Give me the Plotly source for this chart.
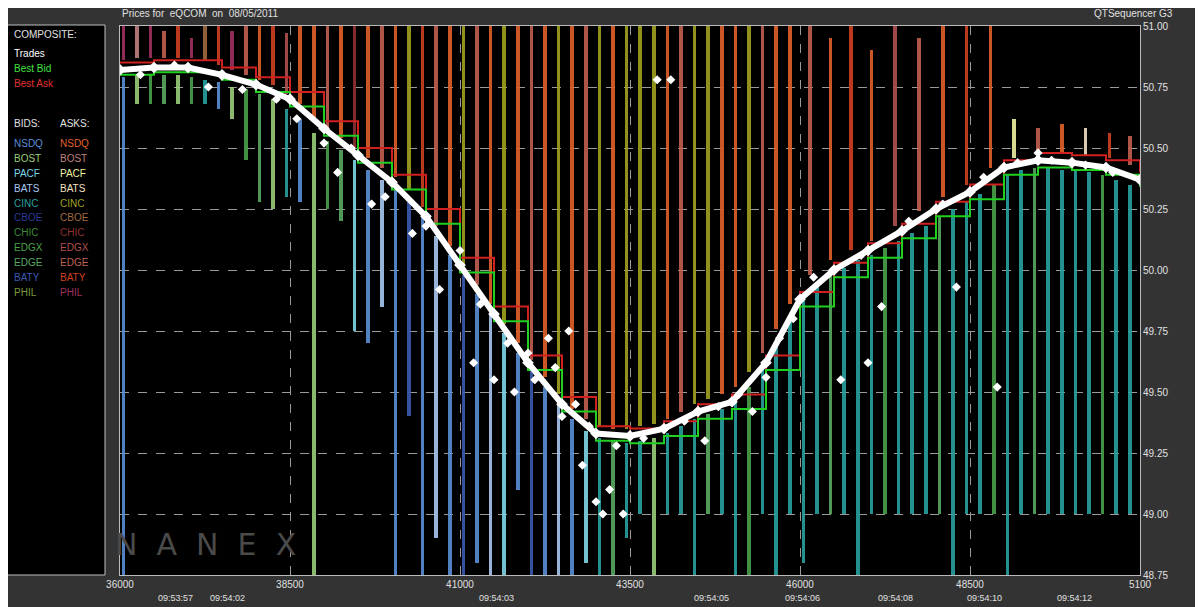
import plotly.graph_objects as go

# ---------------- data ----------------
curve_x = [36000,36500,37000,37500,38000,38500,39000,39500,40000,40500,41000,41500,42000,42500,43000,
           43500,44000,44500,45000,45500,46000,46500,47000,47500,48000,48500,49000,49500,50000,50500,51000]
trade_px = [50.82,50.83,50.83,50.80,50.76,50.70,50.58,50.47,50.36,50.22,50.02,49.82,49.62,49.45,49.33,
            49.32,49.35,49.42,49.46,49.62,49.88,50.00,50.08,50.16,50.25,50.32,50.42,50.45,50.44,50.42,50.37]
best_bid = [50.80,50.81,50.81,50.78,50.73,50.67,50.55,50.44,50.33,50.19,49.99,49.79,49.59,49.42,49.30,
            49.29,49.32,49.39,49.43,49.59,49.85,49.97,50.05,50.13,50.22,50.29,50.39,50.42,50.41,50.39,50.34]
best_ask = [50.85,50.86,50.86,50.83,50.79,50.73,50.61,50.50,50.39,50.25,50.05,49.85,49.65,49.48,49.36,
            49.35,49.38,49.45,49.49,49.65,49.91,50.03,50.11,50.19,50.28,50.35,50.45,50.48,50.47,50.45,50.40]

# extra (outlying) trades
odd_x = [37300,38600,39200,39700,40300,40700,41200,41500,41800,42100,42300,42400,42600,42700,42800,43000,
         43100,43200,43400,43900,44100,44600,45300,45900,46600,47000,47200,48300,48900,49500,
         36300,36800,37800,38300,39000,39400,39900,40500,41000,41300,41700,42000,42500,42900,43300,43700,
         44300,44800,45100,45500,45700,46200,46900,47600,48100,48700,49200,49700,50200,50600]
odd_px = [50.75,50.62,50.40,50.27,50.15,49.92,49.62,49.55,49.50,49.55,49.72,49.60,49.75,49.45,49.20,49.05,
          49.00,49.10,49.00,50.78,50.78,49.30,49.42,49.80,49.55,49.62,49.85,49.93,49.52,50.48,
          50.80,50.84,50.74,50.70,50.52,50.50,50.30,50.18,50.08,49.86,49.70,49.66,49.40,49.36,49.28,49.31,
          49.38,49.44,49.49,49.56,49.72,49.97,50.06,50.20,50.27,50.38,50.44,50.45,50.43,50.40]

# ask-side quote spikes (x, low, high, exchange index)
ask_x = [36050,36250,36450,36650,36850,37050,37250,37450,37650,37850,38050,38250,38450,38650,38850,39050,
         39250,39450,39650,39850,40050,40250,40450,40650,40850,41050,41250,41450,41650,41850,42050,42250,
         42450,42650,42850,43050,43250,43450,43650,43850,44050,44250,44450,44650,44850,45050,45250,45450,
         45650,45850,46150,46450,46750,47050,47400,47750,48100,48450,48800,49150,49500,49850,50200,50550,50850]
ask_lo = [50.86,50.87,50.87,50.87,50.87,50.87,50.86,50.84,50.82,50.80,50.78,50.76,50.72,50.68,50.62,50.58,
          50.54,50.50,50.46,50.42,50.38,50.33,50.26,50.18,50.10,50.02,49.94,49.86,49.78,49.70,49.63,49.56,
          49.49,49.43,49.39,49.36,49.35,49.35,49.36,49.37,49.39,49.42,49.45,49.47,49.49,49.52,49.58,49.66,
          49.76,49.86,49.98,50.04,50.08,50.12,50.18,50.24,50.30,50.35,50.42,50.46,50.48,50.48,50.47,50.46,50.43]
ask_hi = [51.00,51.00,51.00,50.98,51.00,50.95,51.00,51.00,50.98,51.00,51.00,51.00,50.97,51.00,51.00,51.00,
          51.00,51.00,51.00,51.00,51.00,51.00,51.00,51.00,51.00,51.00,51.00,51.00,51.00,51.00,51.00,51.00,
          51.00,51.00,51.00,51.00,51.00,51.00,51.00,51.00,51.00,51.00,51.00,51.00,51.00,51.00,51.00,51.00,
          51.00,51.00,51.00,50.95,51.00,50.90,51.00,50.95,51.00,51.00,51.00,50.62,50.58,50.60,50.58,50.56,50.55]
ask_ex = [10,1,10,8,9,10,5,9,10,8,0,9,7,0,0,8,0,6,0,8,0,4,9,8,0,4,8,0,4,0,8,0,4,0,8,4,0,4,4,4,
          0,8,4,4,0,0,4,8,0,0,8,0,9,0,7,8,0,9,0,2,8,0,3,9,8]

# bid-side quote spikes
bid_x = [36050,36250,36450,36650,36850,37050,37250,37450,37650,37850,38050,38250,38450,38650,38850,39050,
         39250,39450,39650,39850,40050,40250,40450,40650,40850,41050,41250,41450,41650,41850,42050,42250,
         42450,42650,42850,43050,43250,43450,43650,43850,44050,44250,44450,44650,44850,45050,45250,45450,
         45650,45850,46050,46250,46450,46650,46850,47050,47250,47450,47650,47850,48050,48250,48450,48650,
         48850,49050,49250,49450,49650,49850,50050,50250,50450,50650,50850]
bid_hi = [50.79,50.80,50.80,50.80,50.80,50.79,50.78,50.77,50.75,50.74,50.72,50.70,50.66,50.62,50.56,50.53,
          50.49,50.45,50.41,50.37,50.33,50.28,50.22,50.14,50.06,49.98,49.90,49.82,49.74,49.66,49.59,49.52,
          49.45,49.39,49.34,49.31,49.30,49.29,49.30,49.31,49.33,49.36,49.39,49.41,49.43,49.47,49.52,49.60,
          49.70,49.80,49.90,49.95,49.98,50.01,50.04,50.06,50.09,50.12,50.15,50.18,50.22,50.25,50.28,50.31,
          50.35,50.39,50.41,50.42,50.42,50.41,50.41,50.40,50.39,50.37,50.35]
bid_lo = [48.75,50.68,50.68,50.68,50.68,50.68,50.68,50.66,50.62,50.45,50.28,50.25,50.30,50.28,48.75,50.25,
          50.20,49.75,49.70,49.85,48.75,49.40,48.75,48.90,48.75,48.75,48.80,48.75,48.75,49.10,48.75,48.75,
          48.75,48.75,48.80,48.75,48.75,48.90,49.00,48.75,49.00,49.00,48.75,49.00,49.00,48.75,48.75,49.00,
          48.75,49.00,48.80,49.00,49.00,49.00,48.75,49.00,49.00,49.00,49.00,49.00,49.00,48.75,49.00,49.00,
          49.00,48.75,49.00,49.00,49.00,49.00,49.00,49.00,49.00,49.00,49.00]
bid_ex = [0,1,7,8,1,7,4,0,1,7,8,1,4,0,1,7,8,2,0,3,0,9,0,3,0,9,0,3,2,0,9,0,3,0,2,4,8,4,4,1,
          4,4,4,8,4,4,7,4,4,4,4,4,8,4,4,4,7,4,4,4,8,4,4,4,7,4,4,8,4,4,4,4,7,4,4]

exchanges = ["NSDQ","BOST","PACF","BATS","CINC","CBOE","CHIC","EDGX","EDGE","BATY","PHIL"]
bid_colors = ["#5b8fd6","#9acd78","#7fd6e8","#a8c8f0","#2aa0a0","#2a3a9a","#3a8a3a","#4aa04a","#5aa860","#3a5ab0","#7a9a3a"]
ask_colors = ["#e0602a","#c08080","#f0f0a0","#f0e0c0","#a0a020","#a06a40","#903030","#b05050","#c06050","#d04020","#a03060"]

y_ticks = [48.75,49.00,49.25,49.50,49.75,50.00,50.25,50.50,50.75,51.00]
x_ticks = [36000,38500,41000,43500,46000,48500,51000]
x_tick_labels = ["36000","38500","41000","43500","46000","48500","5100"]
time_x = [36820,37580,41540,44700,46040,47400,48720,50040]
time_labels = ["09:53:57","09:54:02","09:54:03","09:54:05","09:54:06","09:54:08","09:54:10","09:54:12"]

# ---------------- figure ----------------
fig = go.Figure()

fig.add_trace(go.Bar(x=ask_x, base=ask_lo, y=[h - l for h, l in zip(ask_hi, ask_lo)], width=55,
                     marker=dict(color=[ask_colors[i] for i in ask_ex], line=dict(width=0)), opacity=0.9,
                     hoverinfo="skip"))
fig.add_trace(go.Bar(x=bid_x, base=bid_lo, y=[h - l for h, l in zip(bid_hi, bid_lo)], width=55,
                     marker=dict(color=[bid_colors[i] for i in bid_ex], line=dict(width=0)), opacity=0.9,
                     hoverinfo="skip"))
fig.add_trace(go.Scatter(x=curve_x, y=best_ask, mode="lines", line=dict(color="#d02020", width=2, shape="hv")))
fig.add_trace(go.Scatter(x=curve_x, y=best_bid, mode="lines", line=dict(color="#20d020", width=2, shape="hv")))
fig.add_trace(go.Scatter(x=curve_x, y=trade_px, mode="lines", line=dict(color="white", width=6)))
fig.add_trace(go.Scatter(x=curve_x, y=trade_px, mode="markers",
                         marker=dict(symbol="diamond", color="white", size=9)))
fig.add_trace(go.Scatter(x=odd_x, y=odd_px, mode="markers",
                         marker=dict(symbol="diamond", color="white", size=7)))

W, H, L, R, T, B = 1195, 599, 112, 63, 15, 32
fig.update_layout(
    width=W, height=H, showlegend=False, barmode="overlay", bargap=0,
    paper_bgcolor="#333333", plot_bgcolor="#000000",
    margin=dict(l=L, r=R, t=T, b=B),
    font=dict(family="Liberation Sans, Arial", size=10, color="#e0e0e0"),
    xaxis=dict(range=[36000, 51000], tickvals=x_ticks, ticktext=x_tick_labels, showgrid=True,
               gridcolor="#9a9a9a", griddash="dash", gridwidth=1, zeroline=False,
               showline=True, linecolor="#bbbbbb", mirror=True, ticks="", tickfont=dict(size=10)),
    yaxis=dict(range=[48.75, 51.0], tickvals=y_ticks, tickformat=".2f", side="right", showgrid=True,
               gridcolor="#9a9a9a", griddash="dash", gridwidth=1, zeroline=False,
               showline=True, linecolor="#bbbbbb", mirror=True, ticks="", tickfont=dict(size=10)),
)

pw = W - L - R
ph = H - T - B
def px(x):
    return (x - 8 - L) / pw
def py(y):
    return 1 - (y - 8 - T) / ph

fig.add_shape(type="rect", xref="paper", yref="paper", x0=px(5), x1=px(105), y0=py(575), y1=py(22),
              line=dict(color="#c0c0c0", width=1), fillcolor="#000000")

ann = [("COMPOSITE:", 12, 32, "#e0e0e0"), ("Trades", 12, 51, "#ffffff"),
       ("Best Bid", 12, 66, "#40e040"), ("Best Ask", 12, 81, "#e03030"),
       ("BIDS:", 12, 121, "#e0e0e0"), ("ASKS:", 58, 121, "#e0e0e0")]
for i, ex in enumerate(exchanges):
    ann.append((ex, 12, 141 + i * 15, bid_colors[i]))
    ann.append((ex, 58, 141 + i * 15, ask_colors[i]))
for t, x, y, c in ann:
    fig.add_annotation(text=t, xref="paper", yref="paper", x=px(x), y=py(y), xanchor="left",
                       yanchor="middle", showarrow=False, font=dict(size=10, color=c))

fig.add_annotation(text="Prices for  eQCOM  on  08/05/2011", xref="paper", yref="paper", x=px(120), y=py(10),
                   xanchor="left", yanchor="middle", showarrow=False, font=dict(size=10, color="#e0e0e0"))
fig.add_annotation(text="QTSequencer G3", xref="paper", yref="paper", x=px(1175), y=py(10),
                   xanchor="right", yanchor="middle", showarrow=False, font=dict(size=10, color="#e0e0e0"))
for tx, tl in zip(time_x, time_labels):
    fig.add_annotation(text=tl, x=tx, xref="x", yref="paper", y=py(598), yanchor="middle",
                       showarrow=False, font=dict(size=9, color="#e0e0e0"))
fig.add_annotation(text="N  A  N  E  X", x=37250, y=48.875, xref="x", yref="y", showarrow=False,
                   font=dict(size=30, color="#4a4a4a", family="DejaVu Sans"))

fig.write_html("out.html")
